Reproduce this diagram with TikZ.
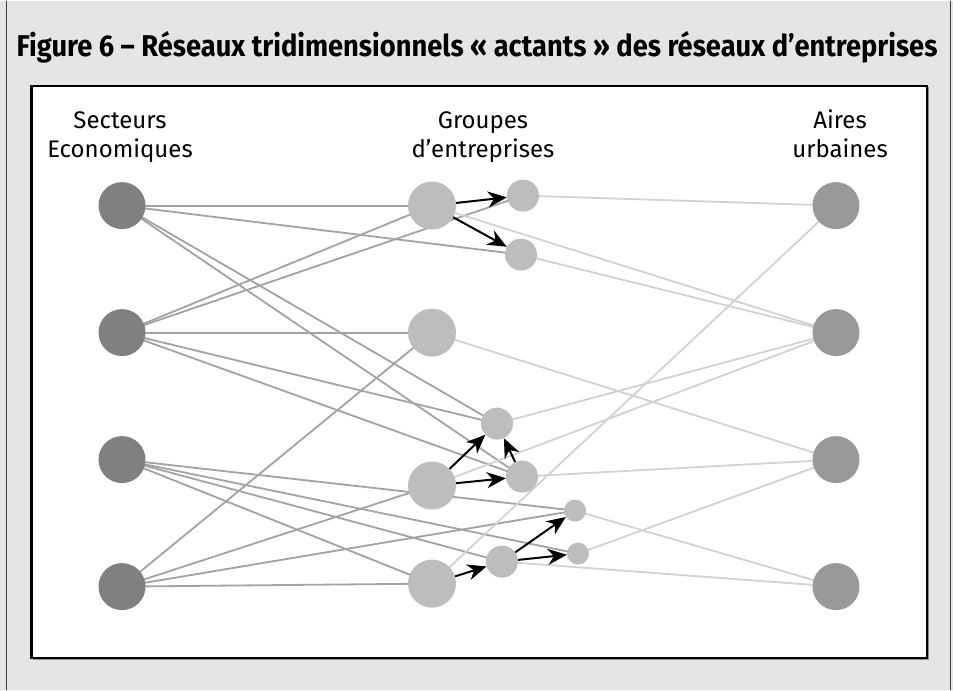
\documentclass[tikz,border=0pt]{standalone}
\usepackage{fontspec}
\setmainfont{Fira Sans}
\usetikzlibrary{arrows.meta}
\definecolor{panel}{HTML}{E5E5E5}
\definecolor{sector}{HTML}{808080}
\definecolor{group}{HTML}{BDBDBD}
\definecolor{area}{HTML}{999999}
\definecolor{linkA}{HTML}{A3A3A3}
\definecolor{linkB}{HTML}{D2D2D2}
\pgfdeclarelayer{links}
\pgfdeclarelayer{frame}
\pgfsetlayers{frame,links,main}
\begin{document}
\begin{tikzpicture}[x=1pt,y=-1pt,
  dot/.style={circle,inner sep=0pt,minimum size=#1},
  sectnode/.style={dot=47pt,fill=sector},
  bignode/.style={dot=48pt,fill=group},
  midnode/.style={dot=32pt,fill=group},
  tinynode/.style={dot=22pt,fill=group},
  areanode/.style={dot=47pt,fill=area},
  lnk/.style={draw=linkA,line width=1.8pt},
  rlnk/.style={draw=linkB,line width=1.8pt},
  flow/.style={draw=black,line width=2pt,-{Stealth[length=19pt,width=16pt,inset=6pt]}},
  head/.style={font=\fontsize{24}{29}\selectfont,align=center,inner sep=0pt}
]
% panel and frame
\begin{pgfonlayer}{frame}
\fill[panel] (0,0) rectangle (953,689);
\draw[black!75,line width=1.2pt] (6.5,0) -- (6.5,689);
\draw[black!75,line width=1.2pt] (950.5,0) -- (950.5,689);
\draw[black!45,line width=1pt] (33,87) rectangle (928.5,659);
\draw[fill=white,line width=2.2pt] (31.5,85) rectangle (927,657.5);
\end{pgfonlayer}

% title
\node[inner sep=0pt] (title) at (477,47)
  {\scalebox{0.91}[1]{\fontsize{30}{36}\selectfont\bfseries Figure 6 – Réseaux tridimensionnels « actants » des réseaux d’entreprises}};

% column headings
\node[head,anchor=base] (hsect) at (120,157) {Secteurs\\Economiques};
\node[head,anchor=base] (hgroup) at (483,157) {Groupes\\d’entreprises};
\node[head,anchor=base] (harea) at (840,157) {Aires\\urbaines};

% sectors
\node[sectnode] (L1) at (122,205) {};
\node[sectnode] (L2) at (122,332) {};
\node[sectnode] (L3) at (122,459) {};
\node[sectnode] (L4) at (122,586) {};
% urban areas
\node[areanode] (R1) at (836,205) {};
\node[areanode] (R2) at (836,332) {};
\node[areanode] (R3) at (836,459) {};
\node[areanode] (R4) at (836,586) {};
% groups
\node[bignode] (B1) at (432,205) {};
\node[bignode] (B2) at (432,332) {};
\node[bignode] (B3) at (432,485) {};
\node[bignode] (B4) at (432,583) {};
\node[midnode] (s1) at (523,195) {};
\node[midnode] (s2) at (521,254) {};
\node[midnode] (s3) at (497,423) {};
\node[midnode] (s4) at (522,476) {};
\node[midnode] (s5) at (502,561) {};
\node[tinynode] (s6) at (575,510) {};
\node[tinynode] (s7) at (578,553) {};

\begin{pgfonlayer}{links}
% sectors -> groups
\foreach \a/\b in {L1/B1,L1/s2,L1/s3,L1/s4,
                   L2/B1,L2/s1,L2/B2,L2/s3,L2/s4,
                   L3/s6,L3/s7,L3/s5,L3/B4,
                   L4/B2,L4/B3,L4/s6,L4/B4}
  \draw[lnk] (\a.center) -- (\b.center);
% groups -> urban areas
\foreach \a/\b in {s1/R1,B1/R2,s2/R2,B2/R3,s3/R2,B3/R2,
                   s4/R3,B4/R1,s6/R4,s7/R3,s5/R4}
  \draw[rlnk] (\a.center) -- (\b.center);
\end{pgfonlayer}

% filiation arrows between groups
\draw[flow] (B1) -- (s1);
\draw[flow] (B1) -- (s2);
\draw[flow] (B3) -- (s3);
\draw[flow] (B3) -- (s4);
\draw[flow] (s4) -- (s3);
\draw[flow] (B4) -- (s5);
\draw[flow] (s5) -- (s6);
\draw[flow] (s5) -- (s7);
\end{tikzpicture}
\end{document}
